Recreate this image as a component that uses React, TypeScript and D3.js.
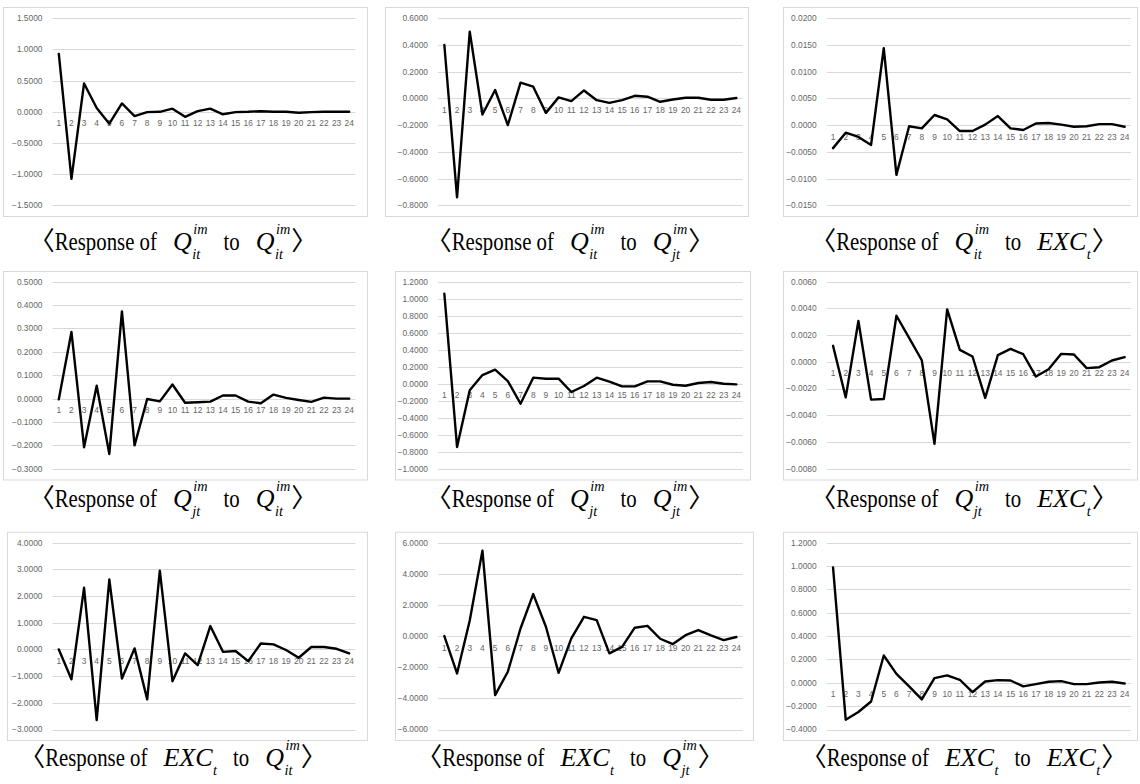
import * as d3 from 'd3';
import React, { useEffect, useRef } from 'react';

const width = 1140;
const height = 784;

// horizon labels shared by all nine panels
const periods = ['1', '2', '3', '4', '5', '6', '7', '8', '9', '10', '11', '12', '13', '14', '15', '16', '17', '18', '19', '20', '21', '22', '23', '24'];

// impulse responses
const qiToQi = [0.93, -1.075, 0.455, 0.06, -0.19, 0.134, -0.07, -0.005, 0.0, 0.05, -0.08, 0.01, 0.05, -0.04, -0.005, 0.0, 0.01, 0.0, 0.0, -0.015, -0.005, 0.0, 0.0, 0.0];
const qiToQj = [0.4, -0.74, 0.5, -0.12, 0.063, -0.2, 0.118, 0.088, -0.108, 0.008, -0.02, 0.06, -0.013, -0.033, -0.013, 0.02, 0.013, -0.025, -0.008, 0.005, 0.005, -0.01, -0.01, 0.003];
const qiToExc = [-0.0043, -0.0014, -0.0022, -0.0037, 0.0144, -0.0093, -0.0002, -0.0006, 0.0019, 0.0011, -0.0011, -0.0011, 0.0001, 0.0017, -0.0006, -0.0009, 0.0003, 0.0004, 0.0001, -0.0003, -0.0002, 0.0002, 0.0002, -0.0003];
const qjToQi = [-0.003, 0.285, -0.208, 0.055, -0.237, 0.373, -0.2, -0.002, -0.012, 0.06, -0.018, -0.016, -0.013, 0.013, 0.013, -0.013, -0.02, 0.017, 0.003, -0.006, -0.014, 0.004, 0.0, 0.0];
const qjToQj = [1.059, -0.745, -0.078, 0.102, 0.165, 0.031, -0.235, 0.071, 0.059, 0.059, -0.098, -0.027, 0.071, 0.024, -0.031, -0.031, 0.027, 0.027, -0.012, -0.024, 0.008, 0.02, 0.0, -0.008];
const qjToExc = [0.0012, -0.00266, 0.00306, -0.00283, -0.00278, 0.00345, 0.0018, 0.00012, -0.00614, 0.00393, 0.0009, 0.0004, -0.0027, 0.0005, 0.00097, 0.00057, -0.0011, -0.00055, 0.0006, 0.00055, -0.00047, -0.0004, 0.0001, 0.00035];
const excToQi = [0.0, -1.12, 2.31, -2.65, 2.62, -1.09, 0.04, -1.87, 2.95, -1.19, -0.15, -0.59, 0.875, -0.09, -0.06, -0.44, 0.225, 0.19, -0.02, -0.31, 0.09, 0.09, 0.025, -0.15];
const excToQj = [0.0, -2.4, 1.0, 5.49, -3.79, -2.29, 0.49, 2.7, 0.6, -2.36, -0.15, 1.24, 1.03, -1.11, -0.69, 0.54, 0.66, -0.17, -0.51, 0.06, 0.39, 0.04, -0.26, -0.06];
const excToExc = [0.989, -0.316, -0.25, -0.16, 0.234, 0.077, -0.03, -0.142, 0.04, 0.063, 0.026, -0.08, 0.011, 0.023, 0.02, -0.031, -0.011, 0.009, 0.014, -0.011, -0.011, 0.003, 0.009, -0.006];

// y axis tick values per panel
const ticks1 = [-1.5, -1.0, -0.5, 0, 0.5, 1.0, 1.5];
const ticks2 = [-0.8, -0.6, -0.4, -0.2, 0, 0.2, 0.4, 0.6];
const ticks3 = [-0.015, -0.01, -0.005, 0, 0.005, 0.01, 0.015, 0.02];
const ticks4 = [-0.3, -0.2, -0.1, 0, 0.1, 0.2, 0.3, 0.4, 0.5];
const ticks5 = [-1.0, -0.8, -0.6, -0.4, -0.2, 0, 0.2, 0.4, 0.6, 0.8, 1.0, 1.2];
const ticks6 = [-0.008, -0.006, -0.004, -0.002, 0, 0.002, 0.004, 0.006];
const ticks7 = [-3, -2, -1, 0, 1, 2, 3, 4];
const ticks8 = [-6, -4, -2, 0, 2, 4, 6];
const ticks9 = [-0.4, -0.2, 0, 0.2, 0.4, 0.6, 0.8, 1.0, 1.2];

// caption symbols
const Qi = { base: 'Q', sup: 'im', sub: 'it' };
const Qj = { base: 'Q', sup: 'im', sub: 'jt' };
const EXC = { base: 'EXC', sub: 't' };

// layout of the 3 x 3 grid
const cols = [
  { boxLeft: [3, 3, 7], boxRight: [367, 367, 367], plotX0: 52.5, plotX1: 355.5, capX: 173 },
  { boxLeft: [385, 395, 395], boxRight: [748, 750, 753], plotX0: 438, plotX1: 742.7, capX: 570 },
  { boxLeft: [783, 783, 783], boxRight: [1137, 1137, 1137], plotX0: 826.7, plotX1: 1131, capX: 964 },
];
const rows = [
  { boxTop: 7, boxBottom: 216, gridTop: 18.3, gridBottom: 205.3, capY: 250 },
  { boxTop: 271, boxBottom: 479.5, gridTop: 281.7, gridBottom: 468.7, capY: 507 },
  { boxTop: 531.7, boxBottom: 740, gridTop: 542.7, gridBottom: 729.5, capY: 766 },
];

const panels = [
  { values: qiToQi, ticks: ticks1, from: Qi, to: Qi },
  { values: qiToQj, ticks: ticks2, from: Qi, to: Qj },
  { values: qiToExc, ticks: ticks3, from: Qi, to: EXC },
  { values: qjToQi, ticks: ticks4, from: Qj, to: Qi },
  { values: qjToQj, ticks: ticks5, from: Qj, to: Qj },
  { values: qjToExc, ticks: ticks6, from: Qj, to: EXC },
  { values: excToQi, ticks: ticks7, from: EXC, to: Qi },
  { values: excToQj, ticks: ticks8, from: EXC, to: Qj },
  { values: excToExc, ticks: ticks9, from: EXC, to: EXC },
];

const gridColor = '#d9d9d9';
const labelColor = '#666';
const labelFont = '"Liberation Sans", Arial, sans-serif';
const serif = '"Liberation Serif", "Times New Roman", serif';
const capSize = 26;
const scriptSize = capSize * 0.55;
const squeeze = 0.8;

const Caption = ({ from, to, cx, baseline }) => {
  const ref = useRef(null);

  useEffect(() => {
    const g = d3.select(ref.current);
    g.selectAll('*').remove();
    const inner = g.append('g');
    let pos = 0;

    const addText = (s, condense, family) => {
      const t = inner.append('text')
        .attr('x', 0).attr('y', 0)
        .attr('font-family', family || serif)
        .attr('font-size', capSize)
        .text(s);
      const w = t.node().getComputedTextLength();
      const k = condense ? squeeze : 1;
      t.attr('transform', `translate(${pos},0) scale(${k},1)`);
      pos += w * k;
    };

    const addMath = (m) => {
      const b = inner.append('text')
        .attr('x', pos).attr('y', 0)
        .attr('font-family', serif).attr('font-style', 'italic')
        .attr('font-size', capSize).text(m.base);
      const wb = b.node().getComputedTextLength();
      let ws = 0;
      if (m.sup) {
        const s = inner.append('text')
          .attr('x', pos + wb + 1.5).attr('y', -capSize * 0.62)
          .attr('font-family', serif).attr('font-style', 'italic')
          .attr('font-size', scriptSize).text(m.sup);
        ws = Math.max(ws, s.node().getComputedTextLength() + 1.5);
      }
      if (m.sub) {
        const s = inner.append('text')
          .attr('x', pos + wb + 0.5).attr('y', capSize * 0.34)
          .attr('font-family', serif).attr('font-style', 'italic')
          .attr('font-size', scriptSize).text(m.sub);
        ws = Math.max(ws, s.node().getComputedTextLength() + 0.5);
      }
      pos += wb + ws;
    };

    const gap = 16;
    addText('\u3008', false, '"Noto Sans CJK KR", sans-serif');
    addText('Response of', true);
    pos += gap;
    addMath(from);
    pos += gap;
    addText('to', true);
    pos += gap;
    addMath(to);
    pos += 1;
    addText('\u3009', false, '"Noto Sans CJK KR", sans-serif');

    inner.attr('transform', `translate(${cx - pos / 2},${baseline})`);
  }, [from, to, cx, baseline]);

  return <g ref={ref} />;
};

const Panel = ({ values, ticks, col, row }) => {
  const c = cols[col];
  const r = rows[row];

  const xScale = d3.scaleBand().domain(periods).range([c.plotX0, c.plotX1]);
  const yScale = d3.scaleLinear().domain(d3.extent(ticks)).range([r.gridBottom, r.gridTop]);
  const fmt = d3.format('.4f');

  const lineGenerator = d3.line()
    .x((d, i) => xScale(periods[i]) + xScale.bandwidth() / 2)
    .y(d => yScale(d));

  const left = c.boxLeft[row];
  const right = c.boxRight[row];
  const y0 = yScale(0);

  return (
    <g>
      <rect x={left + 0.5} y={r.boxTop + 0.5} width={right - left} height={r.boxBottom - r.boxTop}
        fill='#fff' stroke={gridColor} strokeWidth='1' />
      {ticks.map(t => (
        <g key={t}>
          <line x1={c.plotX0} x2={c.plotX1} y1={Math.round(yScale(t)) + 0.5} y2={Math.round(yScale(t)) + 0.5}
            stroke={gridColor} strokeWidth='1' />
          <text x={c.plotX0 - 10} y={yScale(t)} dy='0.35em' textAnchor='end'
            fontFamily={labelFont} fontSize='8.4' fill={labelColor}>
            {fmt(t).replace('-0.0000', '0.0000')}
          </text>
        </g>
      ))}
      {periods.map(p => (
        <text key={p} x={xScale(p) + xScale.bandwidth() / 2} y={y0 + 14.5} textAnchor='middle'
          fontFamily={labelFont} fontSize='8.4' fill={labelColor}>{p}</text>
      ))}
      <path d={lineGenerator(values)} fill='none' stroke='#000' strokeWidth='2.4'
        strokeLinejoin='round' strokeLinecap='round' />
    </g>
  );
};

const App = () => {
  return (
    <svg width={width} height={height} style={{ position: 'absolute', left: 0, top: 0, background: '#fff' }}>
      <rect width={width} height={height} fill='#fff' />
      {panels.map((p, i) => {
        const col = i % 3;
        const row = Math.floor(i / 3);
        return (
          <g key={i}>
            <Panel values={p.values} ticks={p.ticks} col={col} row={row} />
            <Caption from={p.from} to={p.to} cx={cols[col].capX} baseline={rows[row].capY} />
          </g>
        );
      })}
    </svg>
  );
};

export default App;
